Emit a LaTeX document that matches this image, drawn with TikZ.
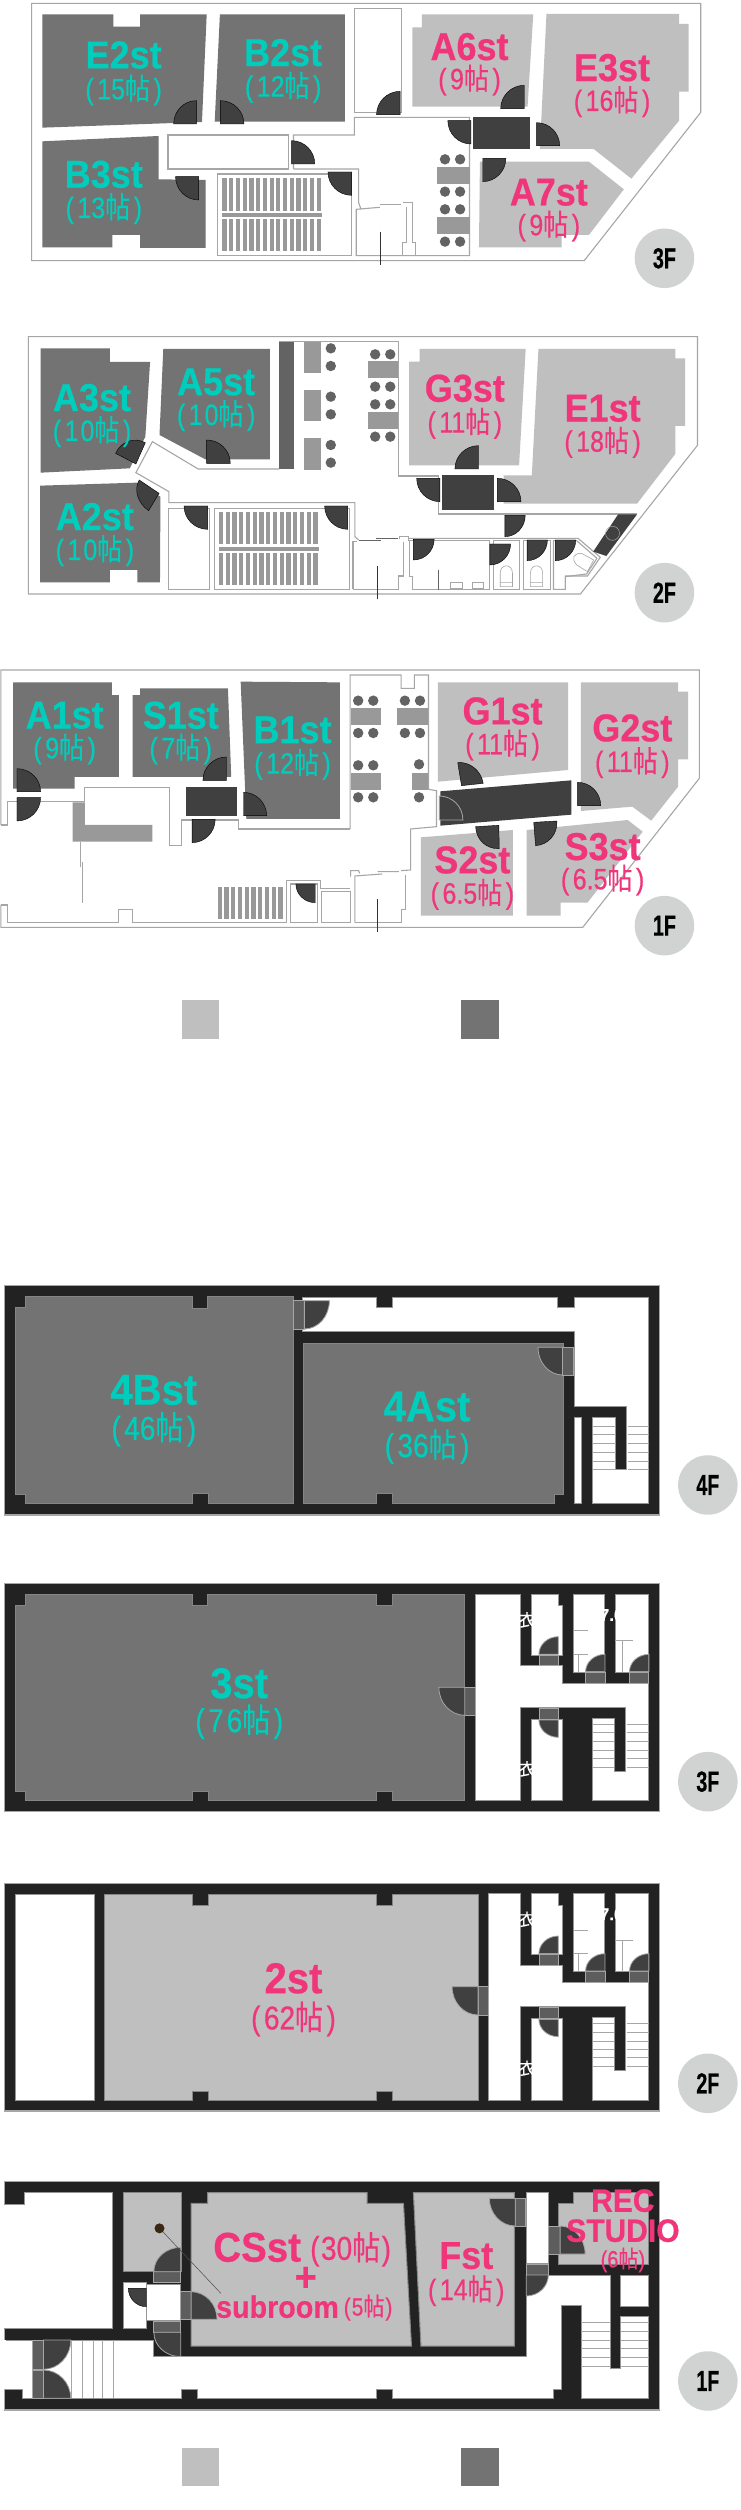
\documentclass[tikz,border=0pt]{standalone}
\usepackage{fontspec}
\usetikzlibrary{calc}
\setmainfont{Liberation Sans}
\newfontfamily\cjkf[FakeBold=0.3]{Noto Sans CJK JP}
\newfontfamily\subf[FakeBold=0.6]{Liberation Sans}
\newfontfamily\titlef[BoldFeatures={FakeBold=0.5}]{Liberation Sans}
\definecolor{rdark}{HTML}{737373}
\definecolor{rlight}{HTML}{BFBFBF}
\definecolor{doorc}{HTML}{404040}
\definecolor{wallc}{HTML}{222222}
\definecolor{linec}{HTML}{A6A6A6}
\definecolor{tabc}{HTML}{999999}
\definecolor{stoolc}{HTML}{636363}
\definecolor{badgec}{HTML}{D1D3D3}
\definecolor{teal}{HTML}{00CDBB}
\definecolor{pink}{HTML}{F0357B}
\newcommand\ttl[2]{\scalebox{1}[1.08]{\fontsize{#1}{#1}\titlef\bfseries #2}}
\newcommand\sbt[2]{\scalebox{1}[1.18]{\fontsize{#1}{#1}\subf #2}}
\tikzset{
 darkroom/.style={fill=rdark},
 lightroom/.style={fill=rlight},
 wline/.style={draw=linec,line width=1.1pt,line join=miter},
 bigroomd/.style={fill=rdark,draw=linec!80!black,line width=1pt},
 bigrooml/.style={fill=rlight,draw=linec!80!black,line width=1pt},
 whiteroom/.style={fill=white,draw=linec!90!black,line width=1pt},
 doorst/.style={fill=doorc},
 doorlined/.style={fill=doorc,draw=linec,line width=.8pt},
 frameg/.style={fill=doorc!85!white,draw=linec,line width=.8pt},
 wallst/.style={fill=wallc,draw=linec,line width=1.1pt},
 tab/.style={fill=tabc},
 thinb/.style={draw=black!80,line width=.5pt},
 badge/.style={circle,fill=badgec,minimum size=59.5pt,inner sep=0pt,text=black,font=\fontsize{29}{29}\titlef\bfseries},
 titlenode/.style={inner sep=0pt,anchor=center},
 whitefrag/.style={inner sep=0pt,text=white,font=\fontsize{17}{17}\cjkf},
}
% door leaf: hinge, end 1, end 2
\newcommand\door[4][doorst]{\filldraw[#1] #2 -- #3 .. controls ($#3+.5523*#4-.5523*#2$) and ($#4+.5523*#3-.5523*#2$) .. #4 -- cycle;}
% room label: name, x, y1, y2, colour, title, size, sub, subsize
\newcommand\rl[9]{%
 \node[titlenode,text=#5] (#1t) at (#2,#3) {\ttl{#7}{#6}};
 \node[titlenode,text=#5] (#1s) at (#2,#4) {\sbt{#9}{(\kern3.5pt #8{\cjkf 帖}\kern3.5pt)}};
}
\newcommand\stools[1]{\foreach \p in {#1} \fill[stoolc] \p circle [radius=5.2pt];}
\newcommand\barsv[4]{\foreach \i in {0,...,#2} \fill[tab] ({#1+14.3*\i},#3) rectangle ({#1+14.3*\i+9},#4);}
\newcommand\stairlines[1]{\foreach \yy in {#1} {\draw[linec,line width=1pt] (1257,\yy) -- (1302,\yy); \draw[linec,line width=1pt] (1328,\yy) -- (1375,\yy);}}
% service block shared by the 3F and 2F of the lower building
\newcommand\service[1]{%
 \filldraw[whiteroom] (#1,72) -- (1104,72) -- (1104,287) -- (1192,287) -- (1192,340) -- (1375,340) -- (1375,692) -- (1255,692) -- (1255,445) -- (1302,445) -- (1302,603) -- (1325,603) -- (1325,412) -- (1104,412) -- (1104,692) -- (#1,692) -- cycle;
 \filldraw[whiteroom] (1126,72) -- (1183,72) -- (1183,107) -- (1193,107) -- (1193,255) -- (1126,255) -- cycle;
 \filldraw[whiteroom] (1216,72) rectangle (1282,307);
 \filldraw[whiteroom] (1304,72) rectangle (1375,307);
 \filldraw[whiteroom] (1126,447) rectangle (1193,692);
 \filldraw[frameg] (1142,255) rectangle (1183,287);
 \filldraw[frameg] (1241,307) rectangle (1282,340);
 \filldraw[frameg] (1334,307) rectangle (1375,340);
 \filldraw[frameg] (1142,415) rectangle (1183,447);
 \door[doorlined]{(1183,253)}{(1142,253)}{(1183,200)}
 \door[doorlined]{(1282,305)}{(1241,305)}{(1282,253)}
 \door[doorlined]{(1375,305)}{(1334,305)}{(1375,253)}
 \door[doorlined]{(1183,450)}{(1142,450)}{(1183,502)}
 \draw[linec,line width=.8pt] (1216,182) -- (1247,182) (1216,252) -- (1247,252) (1225,252) -- (1225,305) (1304,212) -- (1342,212) (1318,212) -- (1318,307);
 \stairlines{463,488,515,540,565,592}
}
\begin{document}
\begin{tikzpicture}[x=1pt,y=-1pt]
\useasboundingbox (0,0) rectangle (740,2510);
\fill[white] (0,0) rectangle (740,2510);

%%%%%%%%%%%%%% upper building 3F
\begin{scope}[shift={(0,0)},x=.4719pt,y=-.3333pt]
\draw[wline] (67,10) -- (1485,10) -- (1485,337) -- (1238,782) -- (67,782) -- cycle;
\fill[darkroom] (90,43) -- (240,43) -- (240,80) -- (297,80) -- (297,43) -- (438,43) -- (428,366) -- (90,383) -- cycle;
\fill[darkroom] (466,43) -- (731,43) -- (731,365) -- (455,365) -- cycle;
\fill[darkroom] (90,424) -- (336,408) -- (336,538) -- (436,540) -- (436,744) -- (297,744) -- (297,705) -- (238,705) -- (238,742) -- (90,742) -- cycle;
\fill[lightroom] (894,43) -- (1130,43) -- (1118,320) -- (874,320) -- (874,82) -- (894,82) -- cycle;
\fill[lightroom] (1158,42) -- (1439,42) -- (1439,72) -- (1459,72) -- (1459,275) -- (1439,275) -- (1439,362) -- (1338,536) -- (1258,447) -- (1144,447) -- cycle;
\fill[lightroom] (1017,485) -- (1248,485) -- (1322,568) -- (1248,705) -- (1190,705) -- (1190,742) -- (1015,742) -- cycle;
\draw[wline] (751,337) -- (751,25) -- (851,25) -- (851,337) -- cycle;
\draw[wline] (356,405) rectangle (611,507);
\draw[wline] (622,507) -- (622,405) -- (751,405) -- (751,352) -- (995,352) -- (995,767) -- (755,767) -- (755,628) -- (805,622);
\draw[wline] (622,507) -- (760,507) -- (760,608) -- (765,628);
\draw[wline] (461,522) -- (745,522) -- (745,767) -- (461,767) -- cycle;
\draw[wline] (805,614) -- (850,614) (855,608) -- (875,608) -- (875,728) -- (880,728) -- (880,767) (862,620) -- (862,728) -- (852,728) -- (852,767);
\draw[thinb] (806,695) -- (806,795);
\barsv{471}{14}{534}{632}
\barsv{471}{14}{656}{752}
\fill[tab] (470,639) rectangle (682,650);
\fill[tab] (927,501) rectangle (995,551);
\fill[tab] (927,651) rectangle (995,701);
\stools{(943,478),(975,478),(943,575),(975,575),(943,628),(975,628),(943,725),(975,725)}
\fill[doorc] (1003,351) rectangle (1123,448);
\door{(416,372)}{(416,302)}{(368,372)}
\door{(467,372)}{(467,302)}{(517,372)}
\door{(848,344)}{(848,274)}{(798,344)}
\door{(1111,326)}{(1111,256)}{(1061,326)}
\door{(1137,437)}{(1137,368)}{(1186,437)}
\door{(998,362)}{(949,362)}{(998,432)}
\door{(1023,475)}{(1072,475)}{(1023,545)}
\door{(421,530)}{(372,530)}{(421,600)}
\door{(618,492)}{(618,422)}{(667,492)}
\door{(745,516)}{(695,516)}{(745,586)}
\rl{e2}{262}{165}{270}{teal}{E2st}{36}{15}{25}
\rl{b2}{600}{158}{262}{teal}{B2st}{36}{12}{25}
\rl{b3}{220}{523}{626}{teal}{B3st}{36}{13}{25}
\rl{a6}{995}{140}{240}{pink}{A6st}{36}{9}{25}
\rl{e3}{1297}{203}{305}{pink}{E3st}{36}{16}{25}
\rl{a7}{1163}{577}{678}{pink}{A7st}{36}{9}{25}
\node[badge] (fa3) at (1408,775) {\scalebox{.68}[1]{3F}};
\end{scope}

%%%%%%%%%%%%%% upper building 2F
\begin{scope}[shift={(0,320)},x=.4719pt,y=-.3333pt]
\draw[wline] (60,50) -- (1478,50) -- (1478,376) -- (1230,822) -- (60,822) -- cycle;
\fill[darkroom] (86,85) -- (233,85) -- (233,126) -- (318,126) -- (308,350) -- (275,445) -- (86,458) -- cycle;
\fill[darkroom] (346,87) -- (572,87) -- (572,418) -- (435,418) -- (338,345) -- cycle;
\fill[darkroom] (85,497) -- (290,488) -- (340,530) -- (339,787) -- (291,787) -- (291,750) -- (233,750) -- (233,787) -- (85,787) -- cycle;
\fill[stoolc] (592,65) rectangle (623,447);
\foreach \a/\b in {65/158,210/304,355/449} \fill[tab] (644,\a) rectangle (680,\b);
\fill[tab] (780,124) rectangle (845,174);
\fill[tab] (780,275) rectangle (845,326);
\stools{(701,85),(701,138),(701,230),(701,283),(701,375),(701,428),(795,103),(827,103),(795,200),(827,200),(795,253),(827,253),(795,350),(827,350)}
\fill[lightroom] (889,87) -- (1114,87) -- (1100,436) -- (867,436) -- (867,125) -- (889,125) -- cycle;
\fill[lightroom] (1141,87) -- (1431,87) -- (1431,115) -- (1452,115) -- (1452,318) -- (1431,318) -- (1431,402) -- (1350,551) -- (1067,551) -- (1067,466) -- (1127,466) -- cycle;
\draw[wline] (592,65) -- (845,65) -- (845,468) -- (930,468) -- (930,582) -- (1350,582);
\draw[wline] (592,447) -- (420,447) -- (323,365) -- (288,458) -- (358,515) -- (358,548) -- (752,548) -- (752,650) -- (760,660);
\draw[wline] (358,565) rectangle (443,808);
\draw[wline] (454,565) rectangle (740,808);
\barsv{464}{14}{575}{673}
\barsv{464}{14}{698}{795}
\fill[tab] (464,681) rectangle (675,692);
\draw[wline] (748,808) -- (748,665) -- (757,665);
\draw[draw=black!60,line width=.8pt] (760,662) -- (808,662) (797,654) -- (843,654);
\draw[wline] (847,658) -- (847,650) -- (866,650) -- (866,662);
\draw[wline] (855,665) -- (855,768) -- (845,768) -- (845,808) -- (748,808);
\draw[thinb] (800,738) -- (800,836);
\draw[wline] (866,655) -- (1225,655) -- (1272,712) -- (1245,768) -- (1198,768) -- (1198,808);
\draw[wline] (868,662) -- (1037,662) -- (1037,808) -- (875,808) -- (875,770) -- (868,770) -- cycle;
\draw[wline] (1045,662) rectangle (1100,808);
\draw[wline] (1110,662) rectangle (1166,808);
\draw[wline] (1173,662) -- (1222,662) -- (1265,715) -- (1243,762) -- (1198,770) -- (1198,808) -- (1173,808) -- cycle;
\draw[linec,line width=.6pt] (955,788) rectangle (980,805) (1000,788) rectangle (1025,805);
\draw[linec,line width=.6pt] (1060,800) -- (1060,760) .. controls (1060,730) and (1086,730) .. (1086,760) -- (1086,800) -- cycle (1060,788) -- (1086,788);
\draw[linec,line width=.6pt] (1124,800) -- (1124,760) .. controls (1124,730) and (1150,730) .. (1150,760) -- (1150,800) -- cycle (1124,788) -- (1150,788);
\draw[linec,line width=.6pt] (1232,700) -- (1258,720) -- (1245,755) -- (1222,735) .. controls (1210,715) and (1215,700) .. (1232,700);
\draw[draw=stoolc,line width=1.2pt] (930,750) -- (930,810);
\fill[doorc] (1310,583) -- (1350,583) -- (1285,708) -- (1257,695) -- cycle;
\draw[linec,line width=.5pt] (1298,640) circle [radius=7pt];
\fill[doorc] (937,466) rectangle (1046,570);
\door{(932,475)}{(883,475)}{(932,545)}
\door{(1054,545)}{(1054,475)}{(1104,545)}
\door{(1070,586)}{(1113,586)}{(1070,650)}
\door{(1014,447)}{(1014,377)}{(964,447)}
\door{(438,430)}{(438,360)}{(488,430)}
\door{(288,432)}{(245,400)}{(308,368)}
\door{(337,520)}{(295,480)}{(315,572)}
\door{(440,558)}{(390,558)}{(440,628)}
\door{(737,558)}{(688,558)}{(737,628)}
\door{(876,658)}{(920,658)}{(876,720)}
\door{(1038,672)}{(1082,672)}{(1038,735)}
\door{(1117,660)}{(1160,660)}{(1117,722)}
\door{(1177,660)}{(1220,660)}{(1177,722)}
\rl{a3}{195}{233}{335}{teal}{A3st}{36}{1\kern2pt 0}{25}
\rl{a5}{458}{186}{287}{teal}{A5st}{36}{1\kern2pt 0}{25}
\rl{a2}{201}{590}{692}{teal}{A2st}{36}{1\kern2pt 0}{25}
\rl{g3}{985}{205}{310}{pink}{G3st}{36}{11}{25}
\rl{e1}{1277}{265}{367}{pink}{E1st}{36}{18}{25}
\node[badge] (fa2) at (1408,818) {\scalebox{.68}[1]{2F}};
\end{scope}

%%%%%%%%%%%%%% upper building 1F
\begin{scope}[shift={(0,650)},x=.4719pt,y=-.3333pt]
\draw[wline] (2,525) -- (2,60) -- (1482,60) -- (1482,385) -- (1235,832) -- (2,832) -- (2,765);
\fill[darkroom] (28,97) -- (237,97) -- (237,135) -- (252,135) -- (252,381) -- (158,381) -- (158,416) -- (28,416) -- cycle;
\fill[darkroom] (297,115) -- (483,115) -- (490,381) -- (281,381) -- (281,135) -- (297,135) -- cycle;
\fill[darkroom] (510,95) -- (720,97) -- (720,507) -- (522,507) -- cycle;
\fill[lightroom] (928,97) -- (1204,97) -- (1204,360) -- (928,395) -- cycle;
\fill[lightroom] (1231,97) -- (1437,97) -- (1437,125) -- (1458,125) -- (1458,328) -- (1437,328) -- (1437,410) -- (1380,512) -- (1340,470) -- (1231,483) -- cycle;
\fill[lightroom] (892,562) -- (1087,540) -- (1087,797) -- (892,797) -- cycle;
\fill[lightroom] (1116,540) -- (1330,510) -- (1362,545) -- (1245,758) -- (1188,758) -- (1188,797) -- (1116,797) -- cycle;
\draw[wline] (742,537) -- (742,75) -- (850,75) -- (850,115) -- (878,115) -- (878,75) -- (908,75) -- (908,418) -- (925,422) -- (925,530) -- (870,537) -- (870,660) -- (850,662);
\draw[wline] (742,537) -- (505,537) -- (505,510) -- (385,510) -- (385,587) -- (360,587) -- (360,412) -- (180,412) -- (180,455) -- (15,455) -- (15,525) -- (2,525);
\draw[wline] (2,765) -- (15,765) -- (15,818) -- (252,818) -- (252,778) -- (280,778) -- (280,818) -- (608,818) -- (608,692) -- (680,692) -- (680,715) -- (742,715);
\draw[wline] (615,702) -- (672,702) -- (672,818) -- (615,818) -- cycle;
\draw[wline] (682,725) -- (742,725) -- (742,818) -- (682,818) -- cycle;
\draw[wline] (752,818) -- (752,678) -- (810,672) (743,680) -- (743,662) -- (760,662) -- (762,670) (800,665) -- (845,665);
\draw[wline] (860,675) -- (860,778) -- (850,778) -- (850,818) -- (752,818);
\draw[thinb] (800,748) -- (800,846);
\draw[linec,line width=1pt] (170,575) -- (170,652) (175,637) -- (175,758);
\fill[tab] (154,457) -- (180,457) -- (180,525) -- (323,525) -- (323,575) -- (154,575) -- cycle;
\barsv{461}{9}{712}{808}
\fill[tab] (743,174) rectangle (808,225);
\fill[tab] (841,174) rectangle (907,225);
\fill[tab] (743,369) rectangle (808,420);
\fill[tab] (873,369) rectangle (907,420);
\stools{(759,152),(791,152),(858,152),(890,152),(759,249),(791,249),(858,249),(890,249),(759,346),(791,346),(888,343),(759,442),(791,442),(888,442)}
\fill[doorc] (933,424) -- (1211,391) -- (1211,494) -- (933,527) -- cycle;
\fill[doorc] (394,412) rectangle (503,498);
\door[doorlined]{(931,510)}{(931,438)}{(981,510)}
\door{(978,407)}{(970,338)}{(1024,400)}
\door{(1224,467)}{(1224,397)}{(1273,467)}
\door{(1057,526)}{(1008,530)}{(1058,596)}
\door{(1131,517)}{(1180,513)}{(1135,587)}
\door{(36,425)}{(36,356)}{(86,425)}
\door{(36,443)}{(86,443)}{(36,513)}
\door{(480,391)}{(480,321)}{(430,391)}
\door{(407,508)}{(456,508)}{(407,578)}
\door{(516,497)}{(516,427)}{(565,497)}
\door{(668,702)}{(627,702)}{(668,758)}
\rl{a1}{137}{196}{297}{teal}{A1st}{36}{9}{25}
\rl{s1}{383}{196}{297}{teal}{S1st}{36}{7}{25}
\rl{b1}{620}{240}{343}{teal}{B1st}{36}{12}{25}
\rl{g1}{1065}{183}{285}{pink}{G1st}{36}{11}{25}
\rl{g2}{1340}{234}{338}{pink}{G2st}{36}{11}{25}
\rl{s2}{1001}{630}{733}{pink}{S2st}{36}{6.5}{25}
\rl{s3}{1277}{590}{690}{pink}{S3st}{36}{6.5}{25}
\node[badge] (fa1) at (1408,827) {\scalebox{.68}[1]{1F}};
\fill[rlight] (385,1051) rectangle (465,1166);
\fill[rdark] (977,1051) rectangle (1057,1166);
\end{scope}

%%%%%%%%%%%%%% lower building 4F
\begin{scope}[shift={(0,1270)},x=.4719pt,y=-.3333pt]
\filldraw[wallst] (10,47) rectangle (1398,735);
\filldraw[whiteroom] (640,82) -- (797,82) -- (797,113) -- (832,113) -- (832,82) -- (1182,82) -- (1182,113) -- (1217,113) -- (1217,82) -- (1375,82) -- (1375,700) -- (1255,700) -- (1255,443) -- (1305,443) -- (1305,598) -- (1327,598) -- (1327,410) -- (1217,410) -- (1217,185) -- (640,185) -- cycle;
\filldraw[whiteroom] (1217,443) rectangle (1233,700);
\filldraw[bigroomd] (643,220) -- (1195,220) -- (1195,675) -- (1175,675) -- (1175,702) -- (832,702) -- (832,672) -- (797,672) -- (797,702) -- (643,702) -- cycle;
\filldraw[bigroomd] (55,80) -- (408,80) -- (408,115) -- (440,115) -- (440,80) -- (622,80) -- (622,702) -- (442,702) -- (442,672) -- (408,672) -- (408,702) -- (55,702) -- (55,675) -- (33,675) -- (33,112) -- (55,112) -- cycle;
\filldraw[frameg] (622,92) rectangle (645,177);
\door[doorlined]{(645,92)}{(698,92)}{(645,177)}
\filldraw[frameg] (1192,232) rectangle (1215,315);
\door[doorlined]{(1192,232)}{(1140,232)}{(1192,315)}
\foreach \yy in {470,495,522,548,575,600} {\draw[linec,line width=1pt] (1257,\yy) -- (1305,\yy); \draw[linec,line width=1pt] (1330,\yy) -- (1375,\yy);}
\rl{ba}{326}{360}{478}{teal}{4Bst}{40}{46}{28}
\rl{bb}{905}{410}{530}{teal}{4Ast}{40}{36}{28}
\node[badge] (fb4) at (1500,645) {\scalebox{.68}[1]{4F}};
\end{scope}

%%%%%%%%%%%%%% lower building 3F
\begin{scope}[shift={(0,1570)},x=.4719pt,y=-.3333pt]
\filldraw[wallst] (10,40) rectangle (1398,725);
\filldraw[bigroomd] (55,72) -- (408,72) -- (408,107) -- (440,107) -- (440,72) -- (797,72) -- (797,107) -- (832,107) -- (832,72) -- (985,72) -- (985,692) -- (832,692) -- (832,664) -- (797,664) -- (797,692) -- (442,692) -- (442,664) -- (408,664) -- (408,692) -- (55,692) -- (55,665) -- (33,665) -- (33,105) -- (55,105) -- cycle;
\service{1007}
\filldraw[frameg] (985,352) rectangle (1007,436);
\door[doorlined]{(985,352)}{(930,352)}{(985,436)}
\node[whitefrag] (fa) at (1117,150) {衣};
\node[whitefrag] (fb) at (1117,597) {衣};
\node[whitefrag] (fc) at (1296,135) {\fontsize{17}{17}\titlef\bfseries 7.0};
\rl{c}{507}{340}{455}{teal}{3st}{40}{7\kern3pt 6}{28}
\node[badge] (fb3) at (1500,635) {\scalebox{.68}[1]{3F}};
\end{scope}

%%%%%%%%%%%%%% lower building 2F
\begin{scope}[shift={(0,1860)},x=.4719pt,y=-.3333pt]
\filldraw[wallst] (10,70) rectangle (1398,753);
\filldraw[whiteroom] (33,102) rectangle (200,720);
\filldraw[bigrooml] (222,102) -- (408,102) -- (408,135) -- (442,135) -- (442,102) -- (797,102) -- (797,135) -- (832,135) -- (832,102) -- (1013,102) -- (1013,720) -- (832,720) -- (832,693) -- (797,693) -- (797,720) -- (442,720) -- (442,693) -- (408,693) -- (408,720) -- (222,720) -- cycle;
\begin{scope}[shift={(0,28)}]
\service{1035}
\node[whitefrag] (fd) at (1117,150) {衣};
\node[whitefrag] (fe) at (1117,597) {衣};
\node[whitefrag] (ff) at (1296,135) {\fontsize{17}{17}\titlef\bfseries 7.0};
\end{scope}
\filldraw[frameg] (1013,380) rectangle (1035,465);
\door[doorlined]{(1013,380)}{(958,380)}{(1013,465)}
\rl{d}{622}{355}{477}{pink}{2st}{40}{62}{28}
\node[badge] (fb2) at (1500,670) {\scalebox{.68}[1]{2F}};
\end{scope}

%%%%%%%%%%%%%% lower building 1F
\begin{scope}[shift={(0,2160)},x=.4719pt,y=-.3333pt]
\filldraw[wallst] (10,65) rectangle (1398,750);
% open areas
\filldraw[whiteroom] (10,505) -- (10,133) -- (52,133) -- (52,98) -- (238,98) -- (238,505) -- cycle;
\filldraw[whiteroom] (10,540) -- (325,540) -- (325,590) -- (1115,590) -- (1115,345) -- (1293,345) -- (1293,625) -- (1315,625) -- (1315,468) -- (1375,468) -- (1375,715) -- (1232,715) -- (1232,437) -- (1190,437) -- (1190,688) -- (1173,688) -- (1173,715) -- (832,715) -- (832,688) -- (797,688) -- (797,715) -- (418,715) -- (418,688) -- (385,688) -- (385,715) -- (47,715) -- (47,688) -- (10,688);
\fill[white] (8,134) rectangle (12,504);
\fill[white] (8,541) rectangle (12,687);
\filldraw[whiteroom] (1315,345) rectangle (1375,438);
\filldraw[whiteroom] (1115,98) rectangle (1162,310);
\filldraw[bigrooml] (262,98) rectangle (385,335);
\filldraw[bigrooml] (405,130) -- (440,130) -- (440,98) -- (778,98) -- (778,130) -- (855,130) -- (872,558) -- (405,558) -- cycle;
\filldraw[bigrooml] (876,98) -- (1090,98) -- (1090,558) -- (892,558) -- cycle;
\filldraw[bigrooml] (1215,98) -- (1375,98) -- (1375,312) -- (1183,312) -- (1183,130) -- (1215,130) -- cycle;
\filldraw[whiteroom] (262,368) rectangle (310,505);
\filldraw[whiteroom] (310,372) rectangle (382,480);
\door{(310,385)}{(272,385)}{(310,440)}
\filldraw[frameg] (326,335) rectangle (383,368);
\door[doorlined]{(383,335)}{(326,335)}{(383,262)}
\filldraw[frameg] (326,485) rectangle (383,517);
\door[doorlined]{(383,517)}{(326,517)}{(383,590)}
\filldraw[frameg] (383,395) rectangle (405,478);
\door[doorlined]{(405,478)}{(405,395)}{(460,478)}
\filldraw[frameg] (1092,115) rectangle (1113,198);
\door[doorlined]{(1092,115)}{(1037,115)}{(1092,198)}
\filldraw[frameg] (1115,312) rectangle (1162,345);
\door[doorlined]{(1115,345)}{(1162,345)}{(1115,408)}
\filldraw[frameg] (1163,198) rectangle (1187,282);
\door[doorlined]{(1187,282)}{(1187,198)}{(1240,282)}
\filldraw[frameg] (68,540) rectangle (92,628);
\door[doorlined]{(92,540)}{(150,540)}{(92,628)}
\filldraw[frameg] (68,630) rectangle (92,715);
\door[doorlined]{(92,715)}{(150,715)}{(92,630)}
\foreach \xx in {152,175,197,218,240} \draw[linec,line width=.8pt] (\xx,540) -- (\xx,715);
\foreach \yy in {488,515,540,565,592,618} {\draw[linec,line width=1pt] (1232,\yy) -- (1293,\yy); \draw[linec,line width=1pt] (1315,\yy) -- (1375,\yy);}
\fill[black!70!brown] (338,205) circle [radius=5pt];
\draw[draw=black!70,line width=.5pt] (345,215) -- (468,400);
\node[titlenode,text=pink] (cst) at (545,262) {\ttl{38.5}{CSst}};
\node[titlenode,text=pink] (css) at (743,268) {\sbt{28}{(\kern1.5pt 30{\cjkf 帖}\kern1.5pt)}};
\node[titlenode,text=pink] (csp) at (648,357) {\ttl{38}{+}};
\node[titlenode,text=pink] (csu) at (588,440) {\ttl{28.7}{subroom}};
\node[titlenode,text=pink] (csv) at (780,443) {\sbt{21}{(\kern1pt 5{\cjkf 帖}\kern1pt)}};
\rl{f}{988}{287}{392}{pink}{Fst}{36}{14}{25}
\node[titlenode,text=pink] (reca) at (1320,122) {\ttl{30}{REC}};
\node[titlenode,text=pink] (recb) at (1320,212) {\ttl{30}{STUDIO}};
\node[titlenode,text=pink] (recc) at (1320,300) {\sbt{20}{(6{\cjkf 帖})}};
\node[badge] (fb1) at (1500,663) {\scalebox{.68}[1]{1F}};
\fill[rlight] (385,865) rectangle (465,978);
\fill[rdark] (977,865) rectangle (1057,978);
\end{scope}
\end{tikzpicture}
\end{document}
